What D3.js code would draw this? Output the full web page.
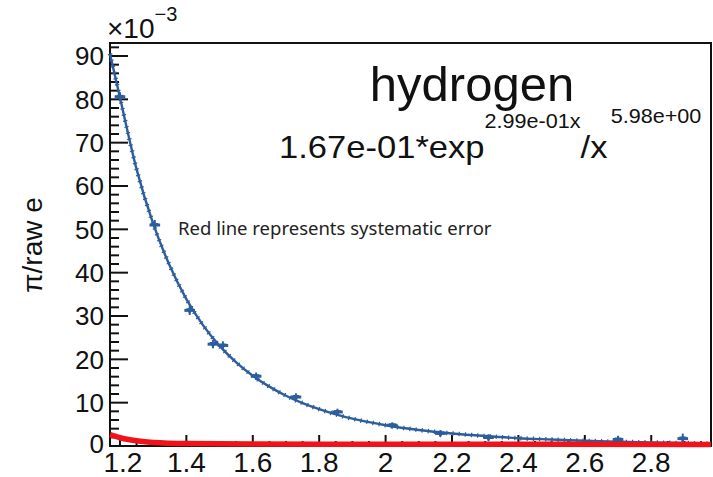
<!DOCTYPE html>
<html>
<head>
<meta charset="utf-8">
<script src="https://cdn.jsdelivr.net/npm/d3@7"></script>
<style>
  body { margin: 0; background: #fff; }
  text { font-family: "Liberation Sans", Arial, sans-serif; fill: #111; }
</style>
</head>
<body>
<div class="chart"></div>
<script>
// fit curve (values in units of 1e-3)
const fitX = [1.17, 1.2, 1.25, 1.3, 1.35, 1.4, 1.45, 1.5, 1.55, 1.6, 1.65, 1.7, 1.75, 1.8, 1.85, 1.9, 1.95, 2.0, 2.1, 2.2, 2.3, 2.4, 2.5, 2.6, 2.7, 2.8, 2.9, 2.98]
const fitY = [90.5, 80.4, 63.9, 51.3, 41.6, 33.9, 27.9, 23.1, 19.3, 16.2, 13.7, 11.6, 9.9, 8.5, 7.3, 6.3, 5.5, 4.8, 3.7, 2.9, 2.3, 1.8, 1.5, 1.2, 0.99, 0.82, 0.68, 0.59]

// measured points with errors
const ptX = [1.2, 1.305, 1.41, 1.48, 1.51, 1.61, 1.73, 1.855, 2.02, 2.165, 2.31, 2.70, 2.895]
const ptY = [80.6, 51.0, 31.3, 23.5, 23.2, 16.1, 11.3, 7.85, 4.8, 2.9, 1.95, 1.5, 1.7]
const ptErr = [0.6, 0.7, 0.6, 0.5, 0.5, 0.4, 0.4, 0.3, 0.2, 0.3, 0.3, 0.4, 0.7]

// systematic error (red)
const sysX = [1.17, 1.2, 1.25, 1.3, 1.4, 1.6, 2.0, 2.5, 2.98]
const sysY = [2.6, 1.9, 1.2, 0.8, 0.55, 0.45, 0.4, 0.38, 0.35]

const xTicks = [1.2, 1.4, 1.6, 1.8, 2, 2.2, 2.4, 2.6, 2.8]
const yTicks = [0, 10, 20, 30, 40, 50, 60, 70, 80, 90]

const width = 713, height = 477
const margin = { top: 43, left: 110, right: 2, bottom: 31 }

const svg = d3.select('.chart')
    .append('svg')
    .attr('width', width)
    .attr('height', height)

const x = d3.scaleLinear()
    .domain([1.17, 2.98])
    .range([margin.left, width - margin.right])

const y = d3.scaleLinear()
    .domain([0, 93])
    .range([height - margin.bottom, margin.top])

// frame
svg.append('rect')
    .attr('x', margin.left)
    .attr('y', margin.top)
    .attr('width', width - margin.right - margin.left)
    .attr('height', height - margin.bottom - margin.top)
    .attr('fill', 'none')
    .attr('stroke', '#111')
    .attr('stroke-width', 2)

// y ticks
const yMinor = d3.range(0, 93, 2)
svg.selectAll('.ymin')
    .data(yMinor)
    .enter()
    .append('line')
    .attr('x1', margin.left)
    .attr('x2', d => margin.left + (d % 10 === 0 ? 18 : 9))
    .attr('y1', d => y(d))
    .attr('y2', d => y(d))
    .attr('stroke', '#111')
    .attr('stroke-width', 2)

svg.selectAll('.ylab')
    .data(yTicks)
    .enter()
    .append('text')
    .attr('x', margin.left - 6)
    .attr('y', d => y(d) - (d === 0 ? 2 : 0))
    .attr('dy', '0.36em')
    .attr('text-anchor', 'end')
    .attr('font-size', 26)
    .text(d => d)

// x ticks
const xMinor = d3.range(1.2, 2.98, 0.05)
svg.selectAll('.xmin')
    .data(xMinor)
    .enter()
    .append('line')
    .attr('x1', d => x(d))
    .attr('x2', d => x(d))
    .attr('y1', y(0))
    .attr('y2', (d, i) => y(0) - (i % 4 === 0 ? 11 : 5))
    .attr('stroke', '#111')
    .attr('stroke-width', 2)

svg.selectAll('.xlab')
    .data(xTicks)
    .enter()
    .append('text')
    .attr('x', d => x(d) + (d === 1.2 ? 3 : 0))
    .attr('y', 472)
    .attr('text-anchor', 'middle')
    .attr('font-size', 28)
    .text(d => d)

// exponent label
const expo = svg.append('text')
    .attr('x', 107)
    .attr('y', 38)
    .attr('font-size', 28)
expo.append('tspan').text('\u00d710')
expo.append('tspan')
    .attr('dy', -17)
    .attr('font-size', 20)
    .text('\u22123')

// y title
svg.append('text')
    .attr('transform', 'translate(42,245) rotate(-90)')
    .attr('text-anchor', 'middle')
    .attr('font-size', 28)
    .text('\u03c0/raw e')

// fit curve
const fitLine = d3.line()
    .x(d => x(d[0]))
    .y(d => y(d[1]))
    .curve(d3.curveMonotoneX)

const fitData = fitX.map((d, i) => [d, fitY[i]])

svg.append('path')
    .datum(fitData)
    .attr('d', fitLine)
    .attr('fill', 'none')
    .attr('stroke', '#2c5d9c')
    .attr('stroke-width', 2.4)

svg.append('path')
    .datum(fitData)
    .attr('d', fitLine)
    .attr('fill', 'none')
    .attr('stroke', '#2c5d9c')
    .attr('stroke-width', 4.5)
    .attr('stroke-dasharray', '1.2,5')

// data points
const pts = ptX.map((d, i) => ({ x: d, y: ptY[i], e: ptErr[i] }))

const g = svg.selectAll('.pt')
    .data(pts)
    .enter()
    .append('g')
    .attr('stroke', '#2c5d9c')
    .attr('fill', '#2c5d9c')

g.append('line')
    .attr('x1', d => x(d.x - 0.016))
    .attr('x2', d => x(d.x + 0.016))
    .attr('y1', d => y(d.y))
    .attr('y2', d => y(d.y))
    .attr('stroke-width', 3)

g.append('line')
    .attr('x1', d => x(d.x))
    .attr('x2', d => x(d.x))
    .attr('y1', d => y(d.y - d.e) + 2)
    .attr('y2', d => y(d.y + d.e) - 2)
    .attr('stroke-width', 2)

g.append('path')
    .attr('d', d3.symbol(d3.symbolTriangle, 22))
    .attr('transform', d => `translate(${x(d.x)},${y(d.y)}) rotate(180)`)
    .attr('stroke', 'none')

// systematic error line
svg.append('path')
    .datum(sysX.map((d, i) => [d, sysY[i]]))
    .attr('d', fitLine)
    .attr('fill', 'none')
    .attr('stroke', '#f0141a')
    .attr('stroke-width', 5.5)

// texts
svg.append('text')
    .attr('x', 472)
    .attr('y', 101)
    .attr('text-anchor', 'middle')
    .attr('font-size', 49)
    .text('hydrogen')

const formula = svg.append('text')
    .attr('transform', 'translate(279,158) scale(1.08,1)')
    .attr('font-size', 32)
formula.append('tspan').text('1.67e-01*exp')
formula.append('tspan')
    .attr('dy', -30)
    .attr('font-size', 20)
    .text('2.99e-01x')
formula.append('tspan')
    .attr('dy', 30)
    .text('/x')
formula.append('tspan')
    .attr('dy', -35)
    .attr('dx', 3)
    .attr('font-size', 20)
    .text('5.98e+00')

svg.append('text')
    .attr('x', 178)
    .attr('y', 235)
    .attr('font-size', 18.5)
    .style('font-family', '"Noto Sans", "Open Sans", sans-serif')
    .style('fill', '#222')
    .text('Red line represents systematic error')
</script>
</body>
</html>
